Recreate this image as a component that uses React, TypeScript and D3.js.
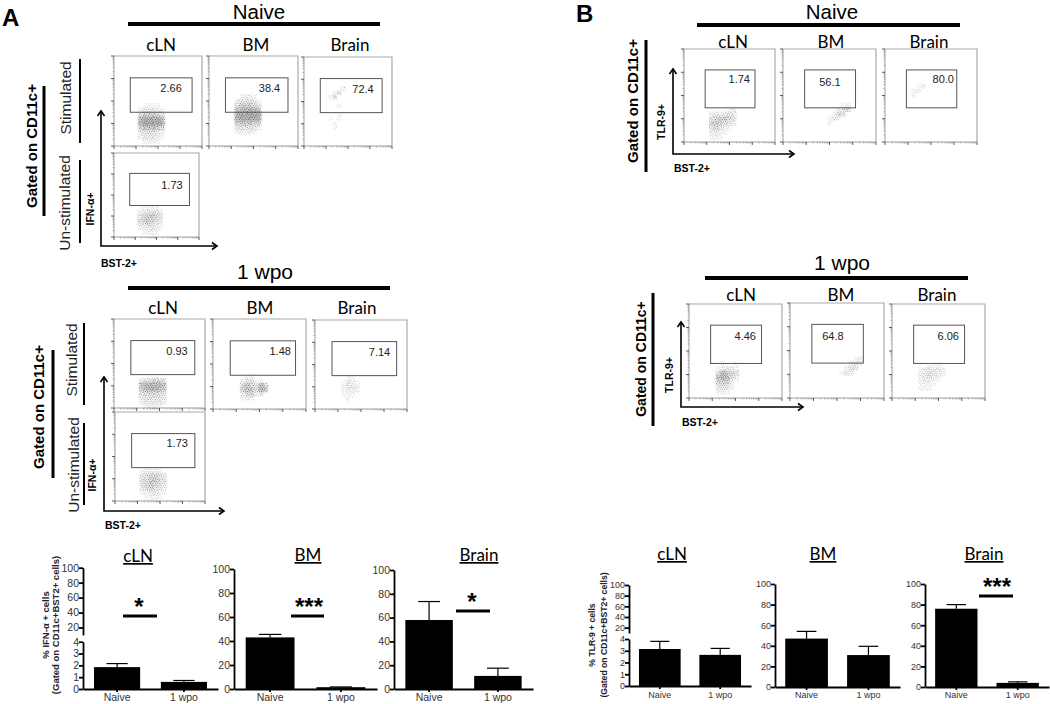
import { useEffect, useRef } from 'react';
import * as d3 from 'd3';

const WIDTH = 1050;
const HEIGHT = 704;
const SANS = '"Liberation Sans", Arial, sans-serif';
const TITLE = 'Lato, "Open Sans", sans-serif';

// ---- bar chart data ----
const groups = ['Naive', '1 wpo'];

const ifnClnValues = [1.85, 0.6];
const ifnClnErrors = [2.15, 0.72];
const ifnBmValues = [43, 1.5];
const ifnBmErrors = [45.5, 1.7];
const ifnBrainValues = [58, 11];
const ifnBrainErrors = [73.5, 17.5];

const tlrClnValues = [3.15, 2.65];
const tlrClnErrors = [3.8, 3.2];
const tlrBmValues = [47, 31];
const tlrBmErrors = [54, 39.5];
const tlrBrainValues = [76, 4];
const tlrBrainErrors = [80, 5];

const fullTicks = [0, 20, 40, 60, 80, 100];
const lowerTicks = [0, 1, 2, 3, 4];
const upperTicks = [20, 40, 60, 80, 100];

// ---- flow panels: gate labels, density of events per 0.2 decade cell (rows go down from yTop) ----
const gateA = [0.74, 3.55, 1.5, 3.03];
const gateB = [0.93, 3.12, 1.47, 3.1];

interface Cloud {
  x0: number;
  yTop: number;
  rows: string[];
}

const naiveClnA: Cloud = { x0: 1.1, yTop: 1.9, rows: ['011110', '133321', '466654', '899998', '899998', '577765', '344432', '233321', '022210'] };
const naiveBmA: Cloud = { x0: 1.15, yTop: 2.3, rows: ['012210', '244431', '466654', '678886', '899999', '899998', '566655', '344432', '122210'] };
const naiveBrainA: Cloud = { x0: 1.1, yTop: 2.7, rows: ['00030', '01400', '14000', '00000', '00100', '00000', '00100', '10100', '01000', '01000'] };
const unstimA: Cloud = { x0: 1.1, yTop: 1.5, rows: ['011110', '234443', '356654', '456543', '345432', '123321', '012210'] };
const wpoClnA: Cloud = { x0: 1.1, yTop: 1.35, rows: ['244554', '788887', '678876', '455554', '344443', '233332', '012210'] };
const wpoBmA: Cloud = { x0: 1.17, yTop: 1.55, rows: ['011000', '244110', '575485', '576486', '355230', '121000'] };
const wpoBrainA: Cloud = { x0: 1.15, yTop: 1.5, rows: ['0110', '1321', '2332', '1221', '1110', '0100'] };
const wpoUnstimA: Cloud = { x0: 1.1, yTop: 1.45, rows: ['122210', '345543', '456654', '456543', '345432', '123321', '012210'] };

const naiveClnB: Cloud = { x0: 1.1, yTop: 1.5, rows: ['000012', '233343', '456654', '565432', '454210', '232100', '121000'] };
const naiveBmB: Cloud = { x0: 1.9, yTop: 1.7, rows: ['00012', '00245', '02540', '13100', '10000'] };
const naiveBrainB: Cloud = { x0: 1.15, yTop: 2.5, rows: ['012', '120', '100'] };
const wpoClnB: Cloud = { x0: 1.15, yTop: 1.55, rows: ['010010', '133320', '486540', '787420', '565200', '343100', '121000'] };
const wpoBmB: Cloud = { x0: 2.1, yTop: 1.75, rows: ['00012', '00232', '02430', '13200'] };
const wpoBrainB: Cloud = { x0: 1.12, yTop: 1.5, rows: ['001110', '134332', '234321', '233210', '122100', '111000'] };

// frame = [left, top, right, bottom] in page pixels, pct = [label, right edge in decades, height in decades]
const flowPanels = [
  { frame: [114, 56, 202, 146], gate: gateA, cloud: naiveClnA, pct: ['2.66', 3.08, 2.58] },
  { frame: [209, 56, 298, 146], gate: gateA, cloud: naiveBmA, pct: ['38.4', 3.2, 2.58] },
  { frame: [304, 57, 392, 146], gate: gateA, cloud: naiveBrainA, pct: ['72.4', 3.17, 2.58] },
  { frame: [114, 153, 199, 237], gate: gateA, cloud: unstimA, pct: ['1.73', 3.23, 2.48] },
  { frame: [114, 319, 205, 408], gate: gateA, cloud: wpoClnA, pct: ['0.93', 3.24, 2.56] },
  { frame: [213, 319, 306, 409], gate: gateA, cloud: wpoBmA, pct: ['1.48', 3.35, 2.56] },
  { frame: [315, 320, 407, 409], gate: gateA, cloud: wpoBrainA, pct: ['7.14', 3.27, 2.56] },
  { frame: [115, 412, 205, 501], gate: gateA, cloud: wpoUnstimA, pct: ['1.73', 3.24, 2.6] },
  { frame: [684, 49, 775, 142], gate: gateB, cloud: naiveClnB, pct: ['1.74', 2.9, 2.7] },
  { frame: [783, 49, 876, 142], gate: gateB, cloud: naiveBmB, pct: ['56.1', 2.48, 2.58] },
  { frame: [885, 49, 977, 142], gate: gateB, cloud: naiveBrainB, pct: ['80.0', 3.0, 2.7] },
  { frame: [689, 304, 782, 398], gate: gateB, cloud: wpoClnB, pct: ['4.46', 2.88, 2.64] },
  { frame: [790, 303, 884, 398], gate: gateB, cloud: wpoBmB, pct: ['64.8', 2.28, 2.6] },
  { frame: [892, 304, 985, 398], gate: gateB, cloud: wpoBrainB, pct: ['6.06', 2.88, 2.64] },
];

const minorDecades = [2, 3, 4, 5, 6, 7, 8, 9].map(d => Math.log10(d));

// speckle tile for the flow clouds
const speckle = [
  [0.4, 0.8], [2.7, 0.2], [4.1, 1.6], [6.9, 0.5], [9.2, 1.1], [11.6, 0.3], [13.1, 1.9],
  [1.3, 2.6], [3.2, 3.4], [5.6, 2.9], [8.1, 3.1], [10.4, 2.4], [12.3, 3.7],
  [0.2, 4.7], [2.1, 5.3], [4.8, 4.5], [6.7, 5.6], [9.4, 4.9], [11.2, 5.5], [13.4, 4.8],
  [1.1, 7.2], [3.6, 6.6], [5.3, 7.6], [7.8, 7.1], [10.1, 6.9], [12.4, 7.4],
  [0.6, 9.3], [2.5, 8.8], [4.4, 9.6], [6.4, 8.7], [8.9, 9.4], [11.3, 8.9], [13.2, 9.7],
  [1.7, 11.1], [3.7, 10.8], [5.9, 11.4], [7.6, 10.6], [10.2, 11.2], [12.1, 10.7],
  [0.3, 12.9], [2.8, 12.6], [4.9, 13.2], [7.2, 12.7], [9.3, 13.1], [11.5, 12.5], [13.5, 12.2],
];

export default function App() {
  const svgRef = useRef<SVGSVGElement>(null);

  useEffect(() => {
    if (!svgRef.current) return;
    const svg = d3.select(svgRef.current);
    svg.selectAll('*').remove();

    const defs = svg.append('defs');
    const pattern = defs.append('pattern')
      .attr('id', 'speckle')
      .attr('width', 14)
      .attr('height', 14)
      .attr('patternUnits', 'userSpaceOnUse');
    speckle.forEach(p => {
      pattern.append('rect')
        .attr('x', p[0]).attr('y', p[1])
        .attr('width', 0.8).attr('height', 0.8)
        .attr('fill', '#333');
    });
    defs.append('filter').attr('id', 'soft')
      .attr('x', '-30%').attr('y', '-30%').attr('width', '160%').attr('height', '160%')
      .append('feGaussianBlur').attr('stdDeviation', 1.2);
    defs.append('filter').attr('id', 'softer')
      .attr('x', '-30%').attr('y', '-30%').attr('width', '160%').attr('height', '160%')
      .append('feGaussianBlur').attr('stdDeviation', 0.3);

    const text = (
      s: string, x: number, y: number, size: number,
      opts: { family?: string; weight?: string; anchor?: string; rotate?: boolean; fill?: string } = {}
    ) => svg.append('text')
      .attr('transform', opts.rotate ? `translate(${x},${y}) rotate(-90)` : `translate(${x},${y})`)
      .attr('text-anchor', opts.anchor ?? 'middle')
      .attr('font-family', opts.family ?? SANS)
      .attr('font-weight', opts.weight ?? 'normal')
      .attr('font-size', size)
      .attr('fill', opts.fill ?? '#000')
      .text(s);

    const rule = (x1: number, y1: number, x2: number, y2: number, w: number) => svg.append('line')
      .attr('x1', x1).attr('y1', y1).attr('x2', x2).attr('y2', y2)
      .attr('stroke', '#000').attr('stroke-width', w);

    // Flow panels
    flowPanels.forEach(p => {
      const [left, top, right, bottom] = p.frame;
      const x = d3.scaleLinear().domain([0, 4]).range([left, right]);
      const y = d3.scaleLinear().domain([0, 4]).range([bottom, top]);
      const g = svg.append('g');
      const haze = g.append('g').attr('filter', 'url(#soft)');
      const dots = g.append('g').attr('filter', 'url(#softer)');

      p.cloud.rows.forEach((row, i) => {
        row.split('').forEach((c, j) => {
          const level = +c;
          if (!level) return;
          const x0 = p.cloud.x0 + j * 0.2;
          const yTop = p.cloud.yTop - i * 0.2;
          const cell = (parent: d3.Selection<SVGGElement, unknown, null, undefined>) => parent.append('rect')
            .attr('x', x(x0)).attr('y', y(yTop))
            .attr('width', x(x0 + 0.2) - x(x0))
            .attr('height', y(yTop - 0.2) - y(yTop));
          cell(haze).attr('fill', '#555').attr('fill-opacity', level * level * 0.005);
          cell(dots).attr('fill', 'url(#speckle)').attr('fill-opacity', Math.min(1, 0.2 + level * 0.12));
        });
      });

      g.append('path')
        .attr('d', `M${left},${top}H${right}V${bottom}`)
        .attr('fill', 'none').attr('stroke', '#aaa').attr('stroke-width', 1.2);
      g.append('path')
        .attr('d', `M${left},${top}V${bottom}H${right}`)
        .attr('fill', 'none').attr('stroke', '#777').attr('stroke-width', 0.7);

      // decade ticks along the left and bottom edges
      d3.range(0, 5).forEach(d => {
        g.append('line').attr('x1', left - 3).attr('x2', left)
          .attr('y1', y(d)).attr('y2', y(d)).attr('stroke', '#333').attr('stroke-width', 0.8);
        g.append('line').attr('y1', bottom).attr('y2', bottom + 3)
          .attr('x1', x(d)).attr('x2', x(d)).attr('stroke', '#333').attr('stroke-width', 0.8);
        if (d === 4) return;
        minorDecades.forEach(m => {
          g.append('line').attr('x1', left - 1.5).attr('x2', left)
            .attr('y1', y(d + m)).attr('y2', y(d + m)).attr('stroke', '#777').attr('stroke-width', 0.5);
          g.append('line').attr('y1', bottom).attr('y2', bottom + 1.5)
            .attr('x1', x(d + m)).attr('x2', x(d + m)).attr('stroke', '#777').attr('stroke-width', 0.5);
        });
      });

      const [gx0, gx1, gy0, gy1] = p.gate;
      g.append('rect')
        .attr('x', x(gx0)).attr('y', y(gy1))
        .attr('width', x(gx1) - x(gx0))
        .attr('height', y(gy0) - y(gy1))
        .attr('fill', 'none').attr('stroke', '#555').attr('stroke-width', 1);

      text(p.pct[0] as string, x(p.pct[1] as number), y(p.pct[2] as number) + 4, 11, { anchor: 'end', fill: '#222' });
    });

    // Panel letters
    text('A', 2, 26, 24, { weight: 'bold', anchor: 'start' });
    text('B', 576, 22, 24, { weight: 'bold', anchor: 'start' });

    // Headings and heavy rules over the flow panels
    const organs = ['cLN', 'BM', 'Brain'];
    text('Naive', 259, 18.5, 20.5);
    rule(128, 24, 380, 24, 4);
    organs.forEach((s, i) => text(s, [161, 256, 350][i], 51, 17, { family: TITLE }));
    text('1 wpo', 265, 279, 21);
    rule(128, 288, 390, 288, 4);
    organs.forEach((s, i) => text(s, [163, 260, 357][i], 314, 17, { family: TITLE }));
    text('Naive', 832, 19, 20.5);
    rule(697, 25, 960, 25, 4);
    organs.forEach((s, i) => text(s, [733, 831, 929][i], 48, 17, { family: TITLE }));
    text('1 wpo', 842, 270, 21);
    rule(705, 278, 968, 278, 4);
    organs.forEach((s, i) => text(s, [741, 841, 937][i], 301, 17, { family: TITLE }));

    // Side labels
    const side = (s: string, x: number, y: number, size: number, weight = 'bold', fill = '#000') =>
      text(s, x, y, size, { rotate: true, weight, fill });
    side('Gated on CD11c+', 37, 146, 15);
    rule(44, 86, 44, 216, 3);
    side('Stimulated', 71, 98, 15.5, 'normal', '#222');
    rule(80, 59, 80, 143, 2);
    side('Un-stimulated', 70, 203, 15.5, 'normal', '#222');
    rule(80, 160, 80, 243, 2);
    side('IFN-α+', 94, 209, 10.5);

    side('Gated on CD11c+', 44, 407, 15);
    rule(53, 350, 53, 478, 3);
    side('Stimulated', 77, 360, 15.5, 'normal', '#222');
    rule(84, 323, 84, 405, 2);
    side('Un-stimulated', 79, 465, 15.5, 'normal', '#222');
    rule(84, 423, 84, 505, 2);
    side('IFN-α+', 96, 475, 10.5);

    side('Gated on CD11c+', 638, 101, 15);
    rule(646, 40, 646, 172, 3);
    side('TLR-9+', 665, 122, 10.5);
    side('Gated on CD11c+', 646, 359, 14);
    rule(653, 293, 653, 426, 3);
    side('TLR-9+', 673, 375, 10.5);

    // Axis arrows
    const arrow = (x0: number, yTop: number, yCorner: number, xEnd: number) => {
      svg.append('path')
        .attr('d', `M${x0},${yTop}V${yCorner}H${xEnd}`)
        .attr('fill', 'none').attr('stroke', '#000').attr('stroke-width', 1.6);
      svg.append('path')
        .attr('d', `M${x0 - 3.5},${yTop + 5}L${x0},${yTop}L${x0 + 3.5},${yTop + 5}`)
        .attr('fill', 'none').attr('stroke', '#000').attr('stroke-width', 1.6);
      svg.append('path')
        .attr('d', `M${xEnd - 5},${yCorner - 3.5}L${xEnd},${yCorner}L${xEnd - 5},${yCorner + 3.5}`)
        .attr('fill', 'none').attr('stroke', '#000').attr('stroke-width', 1.6);
    };
    arrow(101, 111, 246, 217);
    arrow(104, 377, 511, 224);
    arrow(673, 69, 154, 794);
    arrow(681, 322, 407, 803);
    text('BST-2+', 101, 267, 10.5, { weight: 'bold', anchor: 'start' });
    text('BST-2+', 105, 529, 10.5, { weight: 'bold', anchor: 'start' });
    text('BST-2+', 674, 172, 10.5, { weight: 'bold', anchor: 'start' });
    text('BST-2+', 682, 426, 10.5, { weight: 'bold', anchor: 'start' });

    // Bar charts
    const barChart = (c: {
      title: string; titleX: number; titleY: number; x0: number; x1: number; top: number; base: number;
      values: number[]; errors: number[]; font: number; labelY: number;
      broken?: { split: number; mid: number; upperTop: number; upperBottom: number };
      sig?: { x1: number; x2: number; y: number; stars: string; starX: number; starY: number };
    }) => {
      const g = svg.append('g');
      const x = d3.scaleBand<string>().domain(groups).range([c.x0, c.x1]).paddingInner(0.31).paddingOuter(0.165);
      const yLow = c.broken
        ? d3.scaleLinear().domain([0, 4]).range([c.base, c.broken.split])
        : d3.scaleLinear().domain([0, 100]).range([c.base, c.top]);

      c.values.forEach((v, i) => {
        const bx = x(groups[i]) as number;
        const cx = bx + x.bandwidth() / 2;
        const capW = x.bandwidth() * 0.23;
        g.append('line').attr('x1', cx).attr('x2', cx)
          .attr('y1', yLow(v)).attr('y2', yLow(c.errors[i]))
          .attr('stroke', '#000').attr('stroke-width', 1.2);
        g.append('line').attr('x1', cx - capW).attr('x2', cx + capW)
          .attr('y1', yLow(c.errors[i])).attr('y2', yLow(c.errors[i]))
          .attr('stroke', '#000').attr('stroke-width', 1.2);
        g.append('rect').attr('x', bx).attr('y', yLow(v))
          .attr('width', x.bandwidth()).attr('height', c.base - yLow(v))
          .attr('fill', '#000');
      });

      const styleAxis = (a: d3.Selection<SVGGElement, unknown, null, undefined>) => {
        a.selectAll('path,line').attr('stroke', '#000').attr('stroke-width', 1.8);
        a.selectAll('text')
          .attr('font-family', SANS)
          .attr('font-size', c.font)
          .attr('fill', '#333');
        a.attr('font-family', SANS);
      };

      const axisLow = g.append('g').attr('transform', `translate(${c.x0},0)`)
        .call(d3.axisLeft(yLow)
          .tickValues(c.broken ? lowerTicks : fullTicks)
          .tickFormat(d3.format('d'))
          .tickSize(4).tickSizeOuter(0).tickPadding(0));
      styleAxis(axisLow);

      if (c.broken) {
        const yUp = d3.scaleLinear().domain([c.broken.mid, 100]).range([c.broken.upperBottom, c.broken.upperTop]);
        const axisUp = g.append('g').attr('transform', `translate(${c.x0},0)`)
          .call(d3.axisLeft(yUp).tickValues(upperTicks).tickFormat(d3.format('d')).tickSize(4).tickSizeOuter(0).tickPadding(0));
        styleAxis(axisUp);
      }

      const axisX = g.append('g').attr('transform', `translate(0,${c.base})`)
        .call(d3.axisBottom(x).tickSize(3).tickSizeOuter(0).tickPadding(2));
      styleAxis(axisX);
      axisX.selectAll('text').attr('dy', null).attr('y', null)
        .attr('transform', `translate(0,${c.labelY - c.base})`);

      const t = text(c.title, c.titleX, c.titleY, 17, { family: TITLE });
      t.attr('text-decoration', 'underline');

      if (c.sig) {
        rule(c.sig.x1, c.sig.y, c.sig.x2, c.sig.y, 3);
        text(c.sig.stars, c.sig.starX, c.sig.starY, 24, { weight: 'bold' });
      }
    };

    barChart({
      title: 'cLN', titleX: 138, titleY: 562, x0: 83, x1: 218, top: 568, base: 689,
      values: ifnClnValues, errors: ifnClnErrors, font: 10.5, labelY: 701,
      broken: { split: 641.7, mid: 10, upperTop: 567.7, upperBottom: 635 },
      sig: { x1: 123, x2: 157, y: 616, stars: '*', starX: 139, starY: 615 },
    });
    barChart({
      title: 'BM', titleX: 308, titleY: 561, x0: 234, x1: 377, top: 569, base: 689,
      values: ifnBmValues, errors: ifnBmErrors, font: 10.5, labelY: 701,
      sig: { x1: 291, x2: 324, y: 616, stars: '***', starX: 309, starY: 615 },
    });
    barChart({
      title: 'Brain', titleX: 479, titleY: 561, x0: 394, x1: 533, top: 570, base: 689,
      values: ifnBrainValues, errors: ifnBrainErrors, font: 10.5, labelY: 701,
      sig: { x1: 456, x2: 490, y: 611, stars: '*', starX: 472, starY: 610 },
    });
    barChart({
      title: 'cLN', titleX: 672, titleY: 560, x0: 629, x1: 751, top: 585, base: 686,
      values: tlrClnValues, errors: tlrClnErrors, font: 9, labelY: 698,
      broken: { split: 639, mid: 10, upperTop: 585, upperBottom: 633 },
    });
    barChart({
      title: 'BM', titleX: 823, titleY: 560, x0: 775, x1: 900, top: 584, base: 687,
      values: tlrBmValues, errors: tlrBmErrors, font: 9, labelY: 698,
    });
    barChart({
      title: 'Brain', titleX: 984, titleY: 560, x0: 925, x1: 1049, top: 584, base: 687,
      values: tlrBrainValues, errors: tlrBrainErrors, font: 9, labelY: 698,
      sig: { x1: 979, x2: 1013, y: 596, stars: '***', starX: 997, starY: 595 },
    });

    side('% IFN-α + cells', 49, 625, 9.5, 'bold', '#222');
    side('(Gated on CD11c+BST2+ cells)', 59, 625, 9.5, 'bold', '#222');
    side('% TLR-9 + cells', 595, 635, 8.6, 'bold', '#222');
    side('(Gated on CD11c+BST2+ cells)', 607, 635, 8.6, 'bold', '#222');
  }, []);

  return (
    <svg
      ref={svgRef}
      width={WIDTH}
      height={HEIGHT}
      style={{ position: 'absolute', left: 0, top: 0, background: '#fff' }}
    />
  );
}
